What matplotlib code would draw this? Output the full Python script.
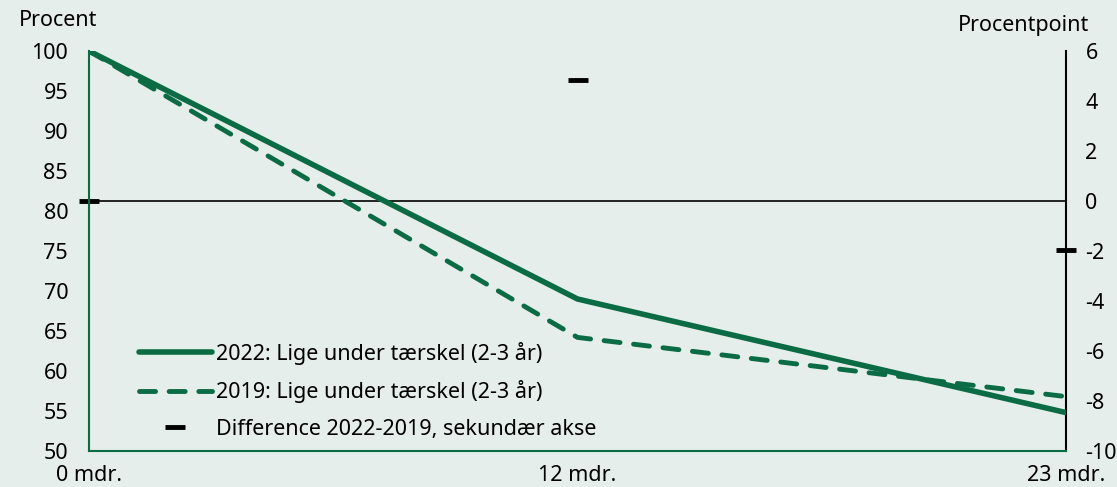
import matplotlib.pyplot as plt
import numpy as np

plt.rcParams['font.family'] = ['Noto Sans', 'DejaVu Sans']
plt.rcParams['axes.unicode_minus'] = False

# data
labels = ['0 mdr.', '12 mdr.', '23 mdr.']
y2022 = [100, 69.0, 54.8]
y2019 = [100, 64.2, 56.8]
diff = [0.0, 4.85, -1.95]

bg = '#e5eeea'
green = '#0b6b45'
fs = 15.5

x = np.arange(len(labels))

fig = plt.figure(figsize=(11.17, 4.87), dpi=100, facecolor=bg)
ax = fig.add_axes([89/1117, 36/487, 977/1117, 400/487])
ax2 = ax.twinx()

l1, = ax.plot(x, y2022, color=green, lw=4, solid_capstyle='round')
l2, = ax.plot(x, y2019, color=green, lw=3.5, ls=(0, (3.3, 2.8)), dash_capstyle='round')
ax2.axhline(0, color='black', lw=1.2)
l3, = ax2.plot(x, diff, ls='none', marker='_', ms=15, mew=3.5, color='black', clip_on=False)

ax.set_xlim(0, 2)
ax.set_ylim(50, 100)
ax.set_yticks(np.arange(50, 101, 5))
ax2.set_ylim(-10, 6)
ax2.set_yticks(np.arange(-10, 7, 2))
ax.set_xticks(x)
ax.set_xticklabels(labels)

ax.tick_params(axis='y', length=0, labelsize=fs, pad=15)
ax2.tick_params(axis='y', length=0, labelsize=fs, pad=14)
ax.tick_params(axis='x', length=0, labelsize=fs, pad=10)
for a in (ax, ax2):
    a.spines['top'].set_visible(False)
ax.spines['left'].set_color(green)
ax.spines['bottom'].set_color(green)
ax.spines['left'].set_linewidth(1.5)
ax.spines['bottom'].set_linewidth(1.5)
ax.spines['right'].set_visible(False)
ax2.spines['left'].set_visible(False)
ax2.spines['bottom'].set_visible(False)
ax2.spines['right'].set_linewidth(1.5)
ax2.set_zorder(ax.get_zorder() - 1)
ax.patch.set_visible(False)
ax2.set_facecolor(bg)

fig.text(19/1117, 1 - 20/487, 'Procent', fontsize=fs, va='center', ha='left')
fig.text(1089/1117, 1 - 25/487, 'Procentpoint', fontsize=fs, va='center', ha='right')

ax.legend([l1, l2, l3],
          ['2022: Lige under tærskel (2-3 år)',
           '2019: Lige under tærskel (2-3 år)',
           'Difference 2022-2019, sekundær akse'],
          loc='lower left', bbox_to_anchor=(0.031, -0.02), frameon=False,
          fontsize=fs, handlelength=3.4, handletextpad=0.2, labelspacing=0.72)

fig.savefig('out.png', dpi=100, facecolor=bg)
